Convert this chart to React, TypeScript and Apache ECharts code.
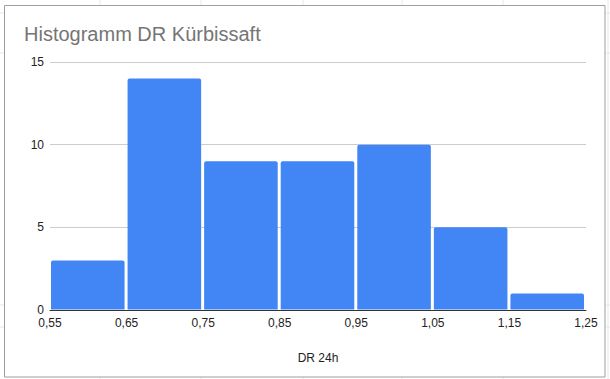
import React, { useEffect, useRef } from "react";
import * as echarts from "echarts";

const titleText = "Histogramm DR Kürbissaft";
const xAxisName = "DR 24h";
const binEdges = [0.55, 0.65, 0.75, 0.85, 0.95, 1.05, 1.15, 1.25];
const counts = [3, 14, 9, 9, 10, 5, 1];
const yTicks = [0, 5, 10, 15];

const OFFSET = 0.55;

export default function App() {
  const ref = useRef<HTMLDivElement>(null);
  useEffect(() => {
    if (!ref.current) return;
    const chart = echarts.init(ref.current, undefined, { renderer: "svg" });
    const toAxis = (v: number) => Math.round((v - OFFSET) * 100);
    const data = counts.map((c, i) => [toAxis(binEdges[i]), toAxis(binEdges[i + 1]), c]);
    const bgLines: any[] = [];
    [100, 201, 303, 402, 503, 608].forEach((x) =>
      bgLines.push({ type: "line", shape: { x1: x, y1: 0, x2: x, y2: 379 }, style: { stroke: "#e8e8e8", lineWidth: 1 }, z: -10 })
    );
    [13, 53, 305, 327].forEach((y) =>
      bgLines.push({ type: "line", shape: { x1: 0, y1: y, x2: 610, y2: y }, style: { stroke: "#e8e8e8", lineWidth: 1 }, z: -10 })
    );
    chart.setOption({
      animation: false,
      backgroundColor: "#ffffff",
      graphic: [
        ...bgLines,
        {
          type: "rect",
          shape: { x: 4.5, y: 5.5, width: 600.5, height: 371.5 },
          style: { fill: "#ffffff", stroke: "#9e9e9e", lineWidth: 1 },
          z: -5,
        },
        {
          type: "text",
          x: 24,
          y: 24,
          style: { text: titleText, fill: "#757575", font: "20px 'Liberation Sans', Arial, sans-serif" },
          z: 10,
        },
      ],
      grid: { left: 50, right: 24, top: 62, bottom: 69, containLabel: false },
      xAxis: {
        type: "value",
        min: 0,
        max: toAxis(binEdges[binEdges.length - 1]),
        interval: 10,
        name: xAxisName,
        nameLocation: "middle",
        nameGap: 42,
        nameTextStyle: { color: "#222222", fontSize: 12, fontFamily: "'Liberation Sans', Arial, sans-serif" },
        axisLine: { show: true, lineStyle: { color: "#333333", width: 1 } },
        axisTick: { show: false },
        splitLine: { show: false },
        axisLabel: {
          color: "#222222",
          fontSize: 12,
          fontFamily: "'Liberation Sans', Arial, sans-serif",
          margin: 7,
          formatter: (v: number) => ((v + OFFSET * 100) / 100).toFixed(2).replace(".", ","),
        },
      },
      yAxis: {
        type: "value",
        min: yTicks[0],
        max: yTicks[yTicks.length - 1],
        interval: 5,
        axisLine: { show: false },
        axisTick: { show: false },
        splitLine: { show: true, lineStyle: { color: "#cccccc", width: 1 } },
        axisLabel: {
          color: "#222222",
          fontSize: 12,
          fontFamily: "'Liberation Sans', Arial, sans-serif",
          margin: 6,
        },
      },
      series: [
        {
          type: "custom",
          data,
          encode: { x: [0, 1], y: 2 },
          renderItem: (params: any, api: any) => {
            const s = api.coord([api.value(0), 0]);
            const e = api.coord([api.value(1), api.value(2)]);
            return {
              type: "rect",
              shape: { x: s[0] + 1, y: e[1], width: e[0] - s[0] - 3, height: s[1] - e[1] - 0.5, r: [2, 2, 0, 0] },
              style: { fill: "#4285f4" },
            };
          },
        },
      ],
    });
    return () => chart.dispose();
  }, []);
  return <div ref={ref} style={{ position: "fixed", left: 0, top: 0, width: 610, height: 379 }} />;
}
